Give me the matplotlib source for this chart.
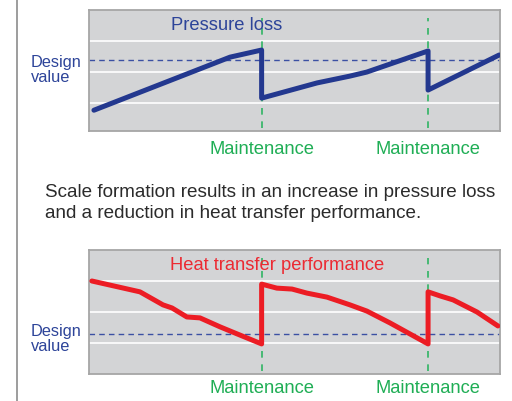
import matplotlib
matplotlib.use("Agg")
import matplotlib.pyplot as plt
from matplotlib.lines import Line2D

plt.rcParams['font.family'] = ['Liberation Sans', 'DejaVu Sans']

# operating time (0-100 across the chart) and relative values
maint_t = [42.0, 82.5]

press_t = [1.2, 34.3, 42.0, 42.0, 55.5, 63.5, 67.6, 82.5, 82.5, 99.8]
press_v = [-0.23, 1.48, 1.71, 0.16, 0.65, 0.87, 1.0, 1.68, 0.42, 1.55]
press_design = 1.39

heat_t = [0.7, 12.4, 18.0, 20.2, 23.8, 27.0, 31.9, 35.0, 42.0, 42.0,
          45.7, 49.4, 53.0, 57.9, 63.5, 67.6, 73.2, 82.5, 82.5,
          85.4, 88.6, 94.4, 99.5]
heat_v = [2.0, 1.65, 1.23, 1.13, 0.84, 0.81, 0.52, 0.35, -0.03, 1.9,
          1.77, 1.74, 1.61, 1.48, 1.23, 1.03, 0.65, -0.03, 1.65,
          1.52, 1.39, 1.0, 0.55]
heat_design = 0.29

W, H = 512, 401
fig = plt.figure(figsize=(W / 100, H / 100), dpi=100)

def panel(box, t, v, color, design, ylim, title, title_xy, mlab_y):
    ax = fig.add_axes(box)
    ax.set_facecolor('#d3d4d6')
    for s in ax.spines.values():
        s.set_color('#a6a6a6')
        s.set_linewidth(1.3)
    ax.set_xlim(0, 100)
    ax.set_ylim(*ylim)
    ax.set_xticks([])
    ax.set_yticks([])
    for g in [0, 1, 2]:
        ax.axhline(g, color='white', lw=1.2, zorder=1)
    ax.axhline(design, color='#3b50a3', lw=1, ls=(0, (4, 3)), zorder=2)
    for m in maint_t:
        ax.plot([m, m], [ylim[0] + 0.1, ylim[1] - 0.25], color='#2fb463',
                lw=1.2, ls=(0, (4, 4)), zorder=2)
        ax.text(m, mlab_y, 'Maintenance', transform=ax.get_xaxis_transform(),
                ha='center', va='center', fontsize=13.2, color='#1fae55')
    ax.plot(t, v, color=color, lw=3.6, solid_joinstyle='round',
            solid_capstyle='round', zorder=3)
    ax.text(title_xy[0], title_xy[1], title, transform=ax.transAxes,
            ha='center', va='center', fontsize=13.2,
            color='#2d4499' if color == '#23388f' else '#ec2a32')
    return ax

panel([89 / W, 1 - 131 / H, 411 / W, 121 / H], press_t, press_v,
      '#23388f', press_design, (-0.9, 3.0), 'Pressure loss', (0.336, 0.876),
      -0.155)
panel([89 / W, 1 - 374 / H, 411 / W, 124 / H], heat_t, heat_v,
      '#ec1c24', heat_design, (-1.0, 3.0), 'Heat transfer performance',
      (0.457, 0.879), -0.12)

fig.text(31 / W, 1 - 70 / H, 'Design\nvalue', ha='left', va='center',
         fontsize=11.8, color='#2d4499', linespacing=0.98)
fig.text(31 / W, 1 - 339 / H, 'Design\nvalue', ha='left', va='center',
         fontsize=11.8, color='#2d4499', linespacing=0.98)

fig.text(45 / W, 1 - 203 / H,
         'Scale formation results in an increase in pressure loss\n'
         'and a reduction in heat transfer performance.',
         ha='left', va='center', fontsize=13.6, color='#2b2b2b',
         linespacing=1.35)

fig.add_artist(Line2D([17 / W, 17 / W], [0, 1], color='#8c8c8c', lw=1.2))

fig.savefig('out.png', dpi=100)
